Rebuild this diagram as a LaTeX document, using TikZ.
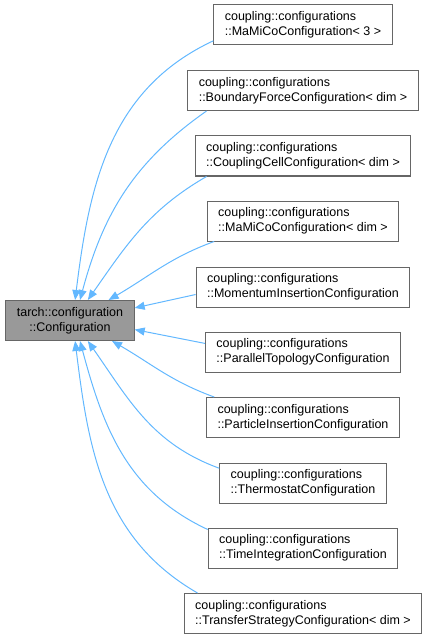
\documentclass[tikz,border=0pt]{standalone}
\usepackage{fontspec}
\setmainfont{Liberation Sans}
\usetikzlibrary{arrows.meta}
\definecolor{boxgray}{HTML}{666666}
\definecolor{basegray}{HTML}{999999}
\definecolor{edgeblue}{HTML}{63B8FF}

\begin{document}
\begin{tikzpicture}[x=1pt,y=1pt,
		font=\fontsize{12.5}{15}\selectfont,
		cls/.style={draw=boxgray,line width=1pt,align=left,inner xsep=11pt,inner ysep=4pt,minimum height=40pt},
		basecls/.style={cls,fill=basegray,align=center},
		inh/.style={draw=edgeblue,line width=1pt,-{Triangle[length=10pt,width=8pt]}}]
		\useasboundingbox (0,0) rectangle (429,-639);
		\coordinate (b) at (70,-320.5);
		\coordinate (c1) at (303,-25);
		\coordinate (c2) at (303,-90.5);
		\coordinate (c3) at (303,-156);
		\coordinate (c4) at (303,-221);
		\coordinate (c5) at (303,-287);
		\coordinate (c6) at (303,-352);
		\coordinate (c7) at (303,-417.5);
		\coordinate (c8) at (303,-483);
		\coordinate (c9) at (303,-548);
		\coordinate (c10) at (303,-613.5);
		\node[basecls] (conf) at (b) {tarch::configuration\\::Configuration};
		\node[cls] (mamicoThree) at (c1) {coupling::configurations\\::MaMiCoConfiguration< 3 >};
		\node[cls] (boundary) at (c2) {coupling::configurations\\::BoundaryForceConfiguration< dim >};
		\node[cls] (cell) at (c3) {coupling::configurations\\::CouplingCellConfiguration< dim >};
		\node[cls] (mamicoDim) at (c4) {coupling::configurations\\::MaMiCoConfiguration< dim >};
		\node[cls] (momentum) at (c5) {coupling::configurations\\::MomentumInsertionConfiguration};
		\node[cls] (topology) at (c6) {coupling::configurations\\::ParallelTopologyConfiguration};
		\node[cls] (particle) at (c7) {coupling::configurations\\::ParticleInsertionConfiguration};
		\node[cls] (thermostat) at (c8) {coupling::configurations\\::ThermostatConfiguration};
		\node[cls] (timeint) at (c9) {coupling::configurations\\::TimeIntegrationConfiguration};
		\node[cls] (transfer) at (c10) {coupling::configurations\\::TransferStrategyConfiguration< dim >};
		\draw[inh] (mamicoThree.190) to[out=205,in=83] (conf.76);
		\draw[inh] (boundary.192) to[out=215,in=75] (conf.64);
		\draw[inh] (cell.192) to[out=210,in=55] (conf.49);
		\draw[inh] (mamicoDim.193) to[out=200,in=30] (conf.28);
		\draw[inh] (momentum.184) -- (conf.11);
		\draw[inh] (topology.175) -- (conf.-8);
		\draw[inh] (particle.167) to[out=160,in=-30] (conf.-26);
		\draw[inh] (thermostat.170) to[out=160,in=-55] (conf.-49);
		\draw[inh] (timeint.169) to[out=155,in=-75] (conf.-64);
		\draw[inh] (transfer.169) to[out=150,in=-83] (conf.-76);
	\end{tikzpicture}
\end{document}
